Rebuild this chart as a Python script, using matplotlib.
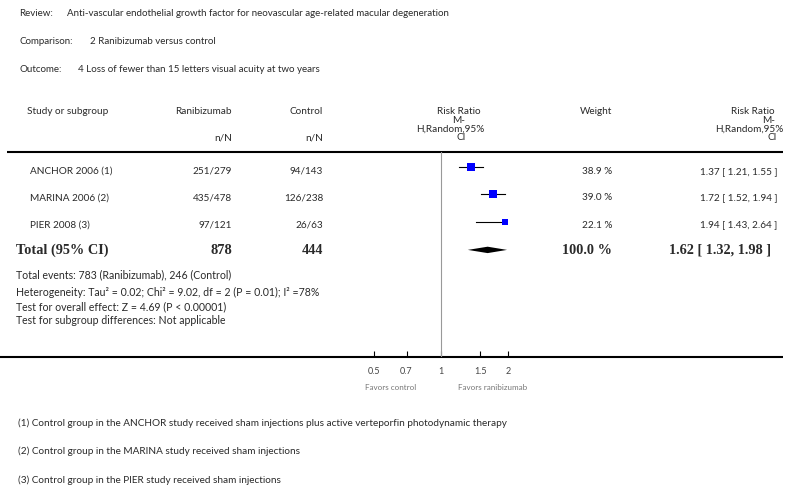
import numpy as np
import matplotlib
matplotlib.use("Agg")
import matplotlib.pyplot as plt

# dati del forest plot
studi = ['ANCHOR 2006 (1)', 'MARINA 2006 (2)', 'PIER 2008 (3)']
ranibizumab = ['251/279', '435/478', '97/121']
controllo = ['94/143', '126/238', '26/63']
rr = [1.37, 1.72, 1.94]
rr_lo = [1.21, 1.52, 1.43]
rr_hi = [1.55, 1.94, 2.64]
pesi = [38.9, 39.0, 22.1]
tot_rr, tot_lo, tot_hi = 1.62, 1.32, 1.98
tot_ranib, tot_ctrl = 878, 444
tick_vals = [0.5, 0.7, 1, 1.5, 2]
tick_labels = ['0.5', '0.7', '1', '1.5', '2']

note = ['(1) Control group in the ANCHOR study received sham injections plus active verteporfin photodynamic therapy',
        '(2) Control group in the MARINA study received sham injections',
        '(3) Control group in the PIER study received sham injections']

W, H = 799, 495
FONT = 'Lato'
SERIF = 'Liberation Serif'
col = '#2a2a2a'
fs = 7.2
fs_b = 10.3

fig = plt.figure(figsize=(W / 100, H / 100), dpi=100)

# asse di sfondo in pixel per i testi
bg = fig.add_axes([0, 0, 1, 1])
bg.set_xlim(0, W)
bg.set_ylim(H, 0)
bg.axis('off')


def t(x, y, s, ha='left', size=fs, family=FONT, weight='normal', color=col):
    bg.text(x, y, s, ha=ha, va='center', fontsize=size, family=family,
            fontweight=weight, color=color)


# intestazione
t(19, 13, 'Review:', size=7.0)
t(67, 13, 'Anti-vascular endothelial growth factor for neovascular age-related macular degeneration', size=7.0)
t(19, 41, 'Comparison:', size=7.0)
t(90, 41, '2 Ranibizumab versus control', size=7.0)
t(19, 70, 'Outcome:', size=7.0)
t(78, 70, '4 Loss of fewer than 15 letters visual acuity at two years', size=7.0)

# testata tabella
t(27, 112, 'Study or subgroup')
t(232, 112, 'Ranibizumab', ha='right')
t(323, 112, 'Control', ha='right')
t(232, 138, 'n/N', ha='right')
t(323, 138, 'n/N', ha='right')
head_rr = ['Risk Ratio', 'M-', 'H,Random,95%', 'CI']
centri = [459, 459, 450, 461]
destri = [775, 775, 783, 777]
for k, s in enumerate(head_rr):
    t(centri[k], 112 + 8.4 * k, s, ha='center')
    t(destri[k], 112 + 8.4 * k, s, ha='right')
t(612, 112, 'Weight', ha='right')

bg.plot([7, 783], [152, 152], color='black', lw=1.5, solid_capstyle='butt')
bg.plot([0, 783], [357, 357], color='black', lw=1.5, solid_capstyle='butt')

# righe degli studi
righe_txt = [171.5, 198, 225]
for i in range(len(studi)):
    y = righe_txt[i]
    t(30, y, studi[i])
    t(232, y, ranibizumab[i], ha='right')
    t(323, y, controllo[i], ha='right')
    t(612, y, f'{pesi[i]:.1f} %', ha='right')
    t(777, y, f'{rr[i]:.2f} [ {rr_lo[i]:.2f}, {rr_hi[i]:.2f} ]', ha='right')

# totale
t(16, 250, 'Total (95% CI)', family=SERIF, weight='bold', size=fs_b)
t(232, 250, str(tot_ranib), ha='right', family=SERIF, weight='bold', size=fs_b)
t(323, 250, str(tot_ctrl), ha='right', family=SERIF, weight='bold', size=fs_b)
t(612, 250, f'{sum(pesi):.1f} %', ha='right', family=SERIF, weight='bold', size=fs_b)
t(771, 250, f'{tot_rr:.2f} [ {tot_lo:.2f}, {tot_hi:.2f} ]', ha='right',
  family=SERIF, weight='bold', size=fs_b)

fs_s = 7.6
t(16, 275, 'Total events: 783 (Ranibizumab), 246 (Control)', size=fs_s)
t(16, 292, 'Heterogeneity: Tau\u00b2 = 0.02; Chi\u00b2 = 9.02, df = 2 (P = 0.01); I\u00b2 =78%', size=fs_s)
t(16, 307, 'Test for overall effect: Z = 4.69 (P < 0.00001)', size=fs_s)
t(16, 321, 'Test for subgroup differences: Not applicable', size=fs_s)

t(391, 387, 'Favors control', ha='center', size=5.8, color='#777777')
t(493, 387, 'Favors ranibizumab', ha='center', size=5.8, color='#777777')

for k, s in enumerate(note):
    t(18, 423 + 28.5 * k, s)

# asse del forest plot (scala logaritmica)
x0, x1 = 374, 508
y_top, y_bot = 152, 357
row0, passo = 166.5, 27.8
ax = fig.add_axes([x0 / W, 1 - y_bot / H, (x1 - x0) / W, (y_bot - y_top) / H])
ax.set_facecolor('none')
ax.set_xscale('log')
ax.set_xlim(tick_vals[0], tick_vals[-1])
ax.set_ylim((y_bot - row0) / passo, (y_top - row0) / passo)
for sp in ax.spines.values():
    sp.set_visible(False)
ax.set_yticks([])
ax.set_xticks(tick_vals)
ax.set_xticklabels(tick_labels)
ax.xaxis.set_minor_locator(matplotlib.ticker.NullLocator())
ax.tick_params(axis='x', direction='in', length=4, width=0.8, color='black',
               pad=7, labelsize=6.5, labelcolor='#444444')
for lab in ax.get_xticklabels():
    lab.set_family(FONT)

ax.axvline(1, color='#999999', lw=0.8)

for i in range(len(studi)):
    ax.plot([rr_lo[i], rr_hi[i]], [i, i], color='black', lw=0.8)
    ax.plot(rr[i], i, marker='s', color='#0000ff', markersize=0.98 * np.sqrt(pesi[i]),
            markeredgewidth=0, clip_on=False)

yd = len(studi)
h = 3.2 / passo
ax.fill([tot_lo, tot_rr, tot_hi, tot_rr], [yd, yd - h, yd, yd + h], color='black', lw=0)

plt.savefig('out.png', dpi=100)
